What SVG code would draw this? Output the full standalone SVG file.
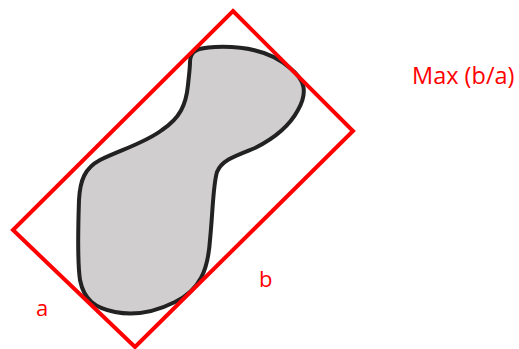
<svg xmlns="http://www.w3.org/2000/svg" width="519" height="349" viewBox="0 0 519 349">
<style>
.lbl{font-family:"Open Sans","Liberation Sans",sans-serif;font-size:22px;fill:#ff0000}
</style>
<rect width="519" height="349" fill="#ffffff"/>
<g id="blob">
<path d="M 190,62 C 190,50 198,48 215,47 C 240,46 270,50 290,68 C 305,80 308,92 298,110 C 290,125 275,138 255,148 C 235,156 222,160 217,172 C 213,185 213,210 210,240 C 208,270 200,290 175,302 C 155,312 135,316 115,312 C 95,308 84,300 80,280 C 77,260 78,230 79,200 C 80,180 85,168 100,160 C 120,150 145,143 162,130 C 180,118 186,105 188,85 C 189,75 190,68 190,62 Z" fill="#d0cecf" stroke="#222222" stroke-width="4" stroke-linejoin="round"/>
</g>
<g id="box">
<polygon points="233,11 353,131 135,347 13,230" fill="none" stroke="#ff0000" stroke-width="4"/>
</g>
<g id="labels">
<text class="lbl" x="412" y="84" style="font-size:23.5px">Max (b/a)</text>
<text class="lbl" x="259" y="287">b</text>
<text class="lbl" x="36" y="316">a</text>
</g>
</svg>
